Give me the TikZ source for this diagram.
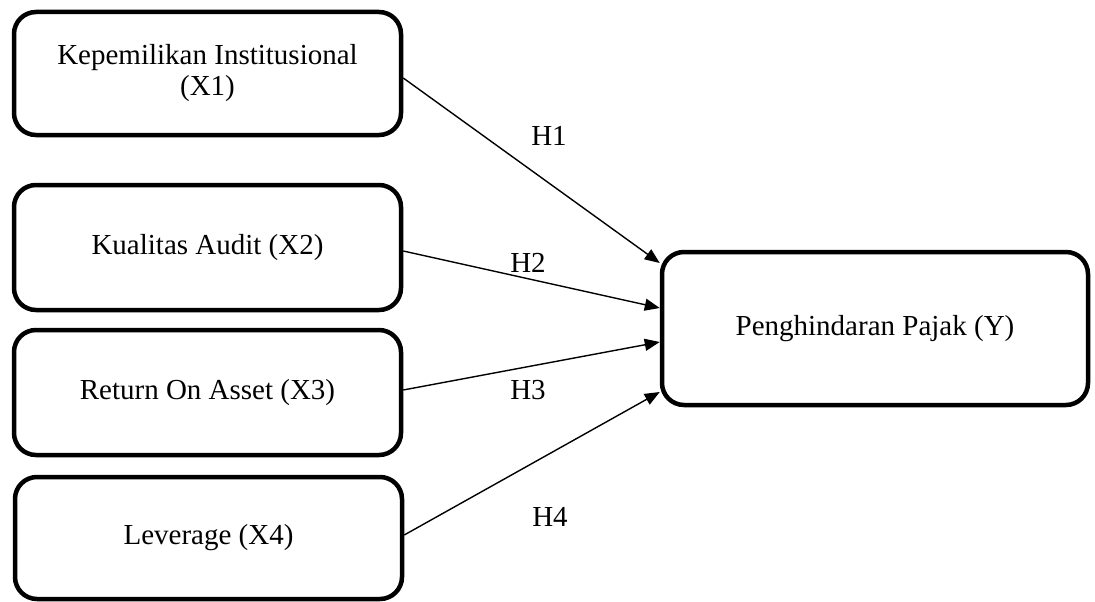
\documentclass[tikz,border=0pt]{standalone}
\usepackage{fontspec}
\setmainfont{Liberation Serif}
\usetikzlibrary{arrows.meta}
\begin{document}
\begin{tikzpicture}[x=1pt,y=-1pt,
  varbox/.style={draw, line width=4.5pt, rounded corners=22pt, align=center, inner sep=0pt,
    font=\fontsize{29}{31}\selectfont},
  link/.style={line width=1.4pt, -{Triangle[length=15pt,width=12pt]}},
  hlabel/.style={font=\fontsize{29}{31}\selectfont, inner sep=0pt}]
\useasboundingbox (0,0) rectangle (1095,602);
\node[varbox, minimum width=387pt, minimum height=123pt] (x1) at (207.5,73.5) {Kepemilikan Institusional\\(X1)};
\node[varbox, minimum width=387pt, minimum height=125pt] (x2) at (207.5,247.5) {Kualitas Audit (X2)};
\node[varbox, minimum width=387pt, minimum height=125pt] (x3) at (207.5,392.5) {Return On Asset (X3)};
\node[varbox, minimum width=387pt, minimum height=122pt] (x4) at (208.5,538) {Leverage (X4)};
\node[varbox, minimum width=426pt, minimum height=153pt] (y) at (875,328.5) {Penghindaran Pajak (Y)};
\draw[link] ([yshift=-4.5pt]x1.east) -- ([yshift=65.5pt]y.west);
\draw[link] ([yshift=-3.5pt]x2.east) -- ([yshift=20.5pt]y.west);
\draw[link] ([yshift=2.5pt]x3.east) -- ([yshift=-13.5pt]y.west);
\draw[link] ([yshift=3pt]x4.east) -- ([yshift=-63.5pt]y.west);
\node[hlabel] (h1) at (549,136) {H1};
\node[hlabel] (h2) at (528,263) {H2};
\node[hlabel] (h3) at (528,390) {H3};
\node[hlabel] (h4) at (550,517) {H4};
\end{tikzpicture}
\end{document}
